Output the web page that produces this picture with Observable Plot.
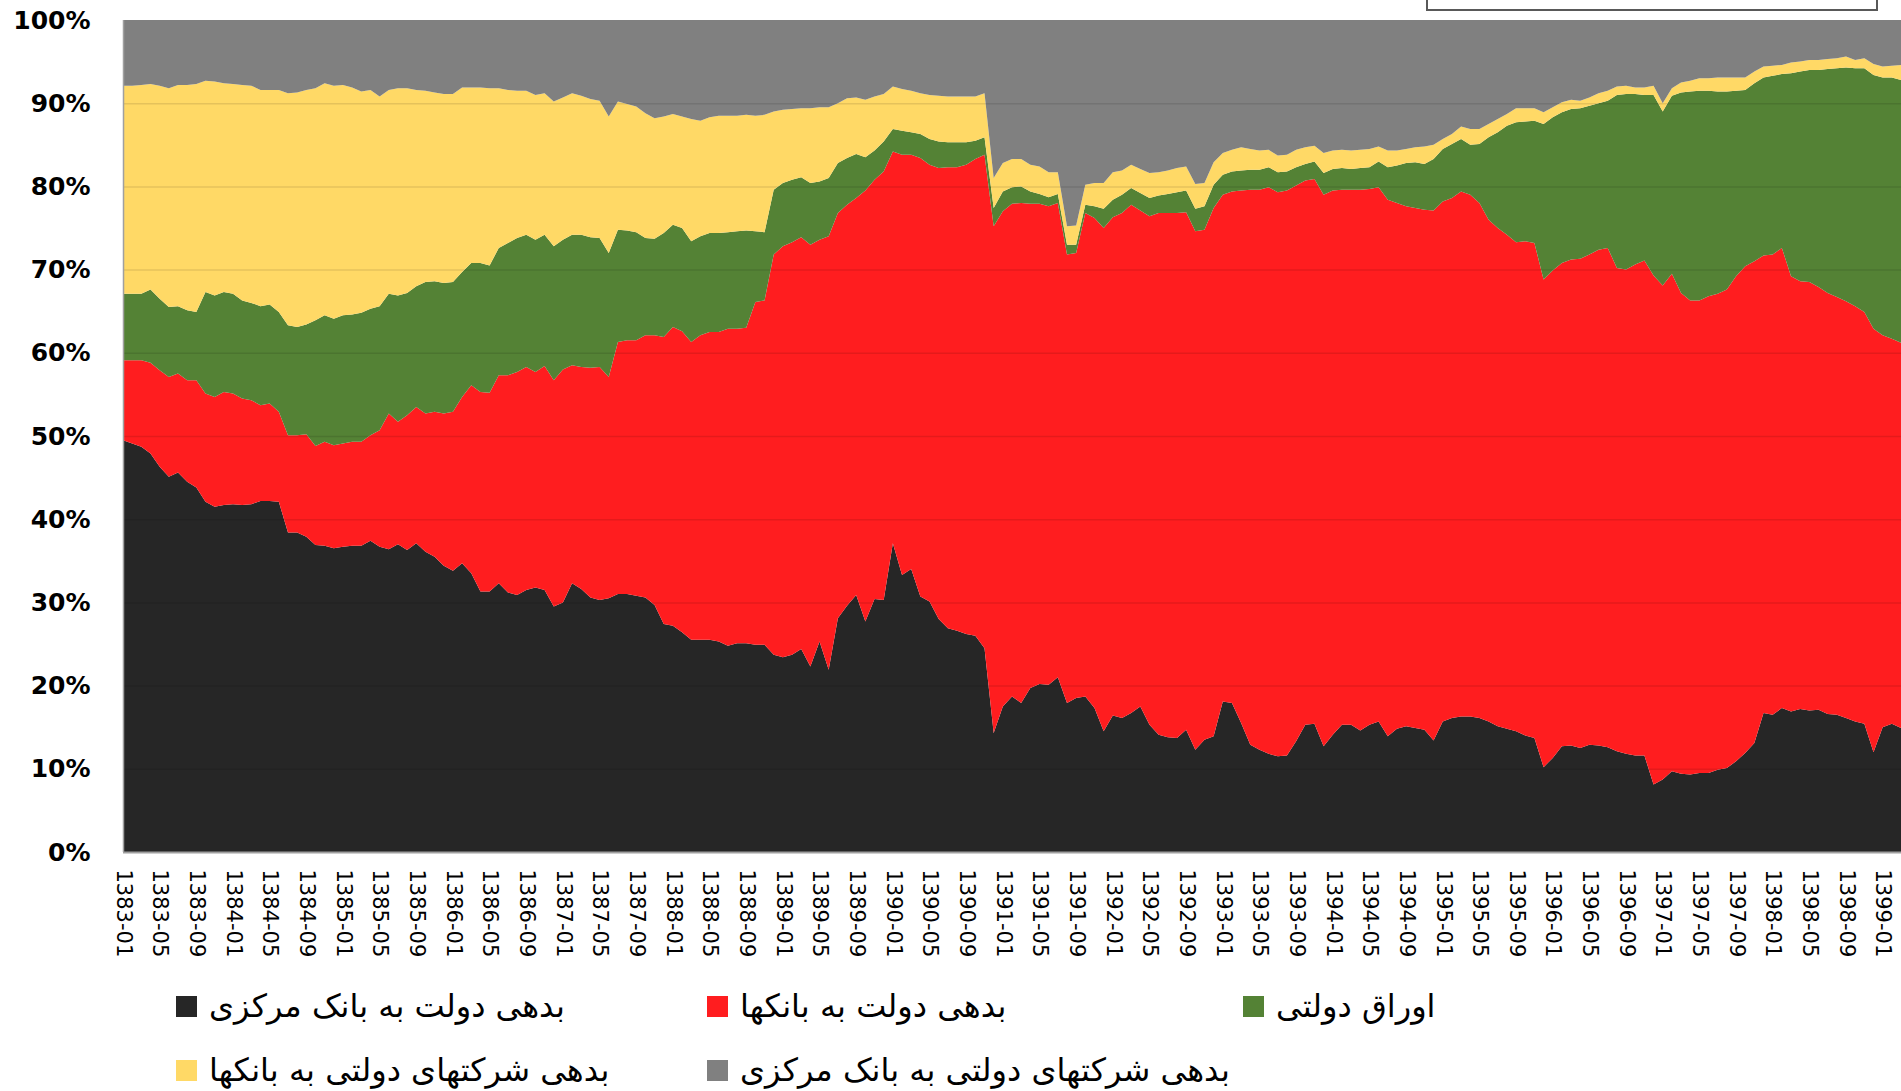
<!DOCTYPE html>
<html>
<head>
<meta charset="utf-8">
<script src="https://cdn.jsdelivr.net/npm/d3@7"></script>
<script src="https://cdn.jsdelivr.net/npm/@observablehq/plot@0.6"></script>
<style>
  html, body { margin: 0; padding: 0; background: #fff; }
  body { width: 1901px; height: 1091px; overflow: hidden; position: relative; font-family: "DejaVu Sans", sans-serif; }
  #chart { position: absolute; left: 0; top: 0; }
  #topbox { position: absolute; left: 1426px; top: -20px; width: 448px; height: 27px; border: 2px solid #595959; background: #fff; }
  .item { position: absolute; display: flex; align-items: center; height: 44px; }
  .sw { width: 21px; height: 21px; margin-right: 12px; flex: none; }
  .lab { direction: rtl; font-size: 32px; color: #000; white-space: nowrap; font-family: "DejaVu Sans", sans-serif; }
</style>
</head>
<body>
<div id="chart"></div>
<div id="topbox"></div>
<div id="legend"></div>
<script>
// Series names (legend order) and colours
const seriesNames = [
  "بدهی دولت به بانک مرکزی",
  "بدهی دولت به بانکها",
  "اوراق دولتی",
  "بدهی شرکتهای دولتی به بانکها",
  "بدهی شرکتهای دولتی به بانک مرکزی"
];
const seriesColors = ["#262626", "#ff1d1f", "#548235", "#ffd966", "#808080"];

// X tick labels (one every 4 months, starting 1383-01)
const tickLabels = [
  "1383-01","1383-05","1383-09","1384-01","1384-05","1384-09","1385-01","1385-05","1385-09",
  "1386-01","1386-05","1386-09","1387-01","1387-05","1387-09","1388-01","1388-05","1388-09",
  "1389-01","1389-05","1389-09","1390-01","1390-05","1390-09","1391-01","1391-05","1391-09",
  "1392-01","1392-05","1392-09","1393-01","1393-05","1393-09","1394-01","1394-05","1394-09",
  "1395-01","1395-05","1395-09","1396-01","1396-05","1396-09","1397-01","1397-05","1397-09",
  "1398-01","1398-05","1398-09","1399-01"
];
const yTicks = [0, 10, 20, 30, 40, 50, 60, 70, 80, 90, 100];

// Cumulative share (%) at the top of each band, monthly from 1383-01 to 1399-03
const topCentralBank = [
  49.5,49.1,48.7,47.9,46.3,45.1,45.6,44.5,43.8,42.1,
  41.5,41.7,41.8,41.7,41.8,42.2,42.2,42.1,38.4,38.4,
  37.9,36.9,36.8,36.5,36.7,36.8,36.8,37.4,36.7,36.4,
  37.0,36.3,37.1,36.1,35.5,34.4,33.8,34.7,33.5,31.3,
  31.3,32.3,31.2,30.9,31.5,31.8,31.5,29.5,30.0,32.3,
  31.6,30.6,30.3,30.5,31.0,31.0,30.8,30.6,29.7,27.4,
  27.2,26.4,25.5,25.5,25.5,25.3,24.8,25.1,25.1,24.9,
  24.9,23.7,23.4,23.7,24.4,22.3,25.3,21.9,28.1,29.6,
  30.9,27.7,30.4,30.3,37.1,33.3,34.0,30.7,30.1,28.0,
  26.9,26.6,26.2,26.0,24.5,14.3,17.5,18.7,17.9,19.7,
  20.2,20.1,21.0,17.9,18.5,18.7,17.3,14.5,16.4,16.1,
  16.7,17.5,15.3,14.1,13.8,13.7,14.7,12.3,13.5,13.9,
  18.1,17.9,15.5,12.9,12.3,11.8,11.5,11.6,13.3,15.3,
  15.4,12.7,14.1,15.3,15.3,14.6,15.3,15.7,13.9,14.8,
  15.1,14.9,14.7,13.4,15.7,16.1,16.3,16.3,16.1,15.7,
  15.1,14.8,14.5,14.0,13.7,10.2,11.3,12.7,12.8,12.5,
  12.9,12.8,12.6,12.1,11.8,11.6,11.6,8.1,8.7,9.7,
  9.4,9.3,9.5,9.5,9.9,10.1,10.9,11.9,13.1,16.7,
  16.5,17.3,16.9,17.2,17.0,17.1,16.6,16.5,16.1,15.7,
  15.4,12.0,15.0,15.4,14.9
];
const topBanks = [
  59.1,59.1,59.1,58.8,57.9,57.1,57.5,56.7,56.7,55.1,
  54.7,55.3,55.1,54.5,54.3,53.7,53.9,52.9,50.1,50.1,
  50.2,48.8,49.3,48.9,49.1,49.3,49.3,50.1,50.7,52.7,
  51.7,52.5,53.5,52.7,52.9,52.7,52.9,54.7,56.1,55.3,
  55.2,57.3,57.3,57.7,58.3,57.7,58.4,56.7,58.0,58.5,
  58.3,58.2,58.3,57.1,61.3,61.5,61.5,62.1,62.1,61.9,
  63.1,62.6,61.3,62.1,62.5,62.5,62.9,62.9,63.0,66.1,
  66.3,71.8,72.8,73.3,73.9,73.0,73.6,74.0,76.8,77.8,
  78.6,79.5,80.8,81.8,84.2,83.8,83.8,83.4,82.6,82.2,
  82.3,82.3,82.6,83.3,83.8,75.2,77.0,77.9,78.0,77.9,
  77.9,77.6,78.0,71.8,72.0,76.8,76.2,75.0,76.3,76.8,
  77.8,77.1,76.4,76.8,76.8,76.8,76.9,74.6,74.8,77.4,
  79.0,79.4,79.5,79.6,79.6,79.9,79.3,79.5,80.1,80.7,
  80.9,79.0,79.5,79.6,79.6,79.6,79.7,79.9,78.4,78.0,
  77.6,77.4,77.2,77.1,78.2,78.6,79.4,79.0,78.0,76.0,
  75.0,74.2,73.3,73.4,73.2,68.8,69.9,70.8,71.2,71.3,
  71.8,72.4,72.6,70.2,70.0,70.6,71.1,69.3,68.1,69.5,
  67.2,66.3,66.3,66.8,67.1,67.6,69.2,70.4,71.0,71.7,
  71.8,72.6,69.2,68.6,68.5,67.9,67.2,66.7,66.2,65.6,
  64.9,62.9,62.1,61.7,61.2
];
const topBonds = [
  67.1,67.1,67.1,67.6,66.5,65.5,65.6,65.1,64.9,67.3,
  66.9,67.3,67.1,66.3,66.0,65.6,65.8,64.9,63.3,63.1,
  63.4,63.9,64.5,64.1,64.5,64.6,64.8,65.3,65.6,67.1,
  66.9,67.2,68.0,68.5,68.6,68.4,68.5,69.7,70.8,70.8,
  70.5,72.6,73.2,73.8,74.2,73.6,74.2,72.8,73.6,74.2,
  74.2,73.9,73.8,72.0,74.8,74.7,74.5,73.8,73.7,74.4,
  75.4,75.0,73.4,74.0,74.4,74.4,74.5,74.6,74.7,74.6,
  74.5,79.6,80.4,80.8,81.1,80.4,80.6,81.0,82.8,83.4,
  83.9,83.5,84.3,85.4,86.9,86.7,86.5,86.3,85.7,85.4,
  85.3,85.3,85.3,85.5,85.9,77.4,79.4,79.9,80.0,79.4,
  79.1,78.7,79.1,73.0,73.0,77.8,77.6,77.3,78.4,79.0,
  79.8,79.2,78.6,78.9,79.1,79.3,79.5,77.3,77.6,80.2,
  81.4,81.8,81.9,82.0,82.0,82.3,81.7,81.8,82.3,82.7,
  83.0,81.6,82.1,82.2,82.1,82.2,82.3,83.0,82.3,82.5,
  82.8,82.9,82.7,83.3,84.5,85.1,85.7,85.0,85.1,85.9,
  86.5,87.3,87.7,87.8,87.9,87.5,88.3,88.9,89.3,89.4,
  89.7,90.0,90.3,91.0,91.1,91.1,91.0,91.0,89.0,90.9,
  91.3,91.4,91.5,91.5,91.4,91.4,91.5,91.6,92.4,93.1,
  93.3,93.5,93.6,93.8,94.0,94.0,94.1,94.2,94.3,94.2,
  94.2,93.4,93.1,93.1,92.8
];
const topCompaniesBanks = [
  92.1,92.1,92.2,92.3,92.1,91.8,92.2,92.2,92.3,92.7,
  92.6,92.4,92.3,92.2,92.1,91.6,91.6,91.6,91.2,91.3,
  91.6,91.8,92.4,92.1,92.2,91.9,91.4,91.6,90.8,91.6,
  91.8,91.8,91.6,91.5,91.3,91.1,91.1,91.9,91.9,91.9,
  91.8,91.8,91.6,91.5,91.5,91.0,91.2,90.2,90.7,91.2,
  90.9,90.5,90.3,88.4,90.2,89.9,89.6,88.8,88.2,88.4,
  88.7,88.4,88.1,87.9,88.3,88.5,88.5,88.5,88.6,88.5,
  88.6,89.0,89.2,89.3,89.4,89.4,89.5,89.5,90.0,90.6,
  90.7,90.4,90.8,91.1,92.0,91.7,91.5,91.2,91.0,90.9,
  90.8,90.8,90.8,90.8,91.2,81.0,82.8,83.3,83.3,82.6,
  82.4,81.7,81.7,75.2,75.3,80.2,80.4,80.4,81.7,81.9,
  82.6,82.1,81.6,81.7,81.9,82.2,82.4,80.3,80.4,82.9,
  84.0,84.4,84.7,84.5,84.3,84.4,83.7,83.8,84.4,84.7,
  84.9,84.0,84.3,84.4,84.3,84.4,84.5,84.8,84.3,84.3,
  84.5,84.7,84.8,85.0,85.7,86.3,87.2,86.9,86.9,87.5,
  88.1,88.7,89.4,89.4,89.4,88.9,89.5,90.1,90.4,90.3,
  90.7,91.2,91.5,92.0,92.1,91.9,91.9,92.1,90.0,91.8,
  92.5,92.7,93.0,93.0,93.1,93.1,93.1,93.1,93.8,94.4,
  94.5,94.6,94.9,95.0,95.2,95.2,95.3,95.4,95.6,95.2,
  95.4,94.7,94.4,94.5,94.6
];

// Build per-series shares from the cumulative levels
const levels = [topCentralBank, topBanks, topBonds, topCompaniesBanks];
const n = topCentralBank.length;
const rows = [];
for (let s = 0; s < seriesNames.length; s++) {
  for (let i = 0; i < n; i++) {
    const hi = s < levels.length ? levels[s][i] : 100;
    const lo = s === 0 ? 0 : levels[s - 1][i];
    rows.push({ month: i, series: seriesNames[s], share: Math.max(0, hi - lo) });
  }
}
const tickMonths = tickLabels.map((_, k) => k * 4);

const chart = Plot.plot({
  width: 1901,
  height: 965,
  marginLeft: 123,
  marginRight: 0,
  marginTop: 20,
  marginBottom: 113,
  style: { fontFamily: "DejaVu Sans, sans-serif", background: "transparent", color: "#000" },
  x: { type: "linear", domain: [0, n - 1], label: null },
  y: { domain: [0, 100], label: null },
  color: { domain: seriesNames, range: seriesColors },
  marks: [
    Plot.areaY(rows, { x: "month", y: "share", z: "series", fill: "series", order: seriesNames, curve: "linear" }),
    Plot.ruleY(yTicks.filter(d => d > 0 && d < 100), { stroke: "#000", strokeOpacity: 0.1, strokeWidth: 1.5 }),
    Plot.ruleY([0], { stroke: "#a0a0a0", strokeWidth: 2 }),
    Plot.ruleX([0], { stroke: "#a0a0a0", strokeWidth: 1.5 }),
    Plot.axisY({ ticks: yTicks, tickFormat: d => d + "%", tickSize: 0, tickPadding: 33, fontSize: 25, fontWeight: "bold", fill: "#000", label: null }),
    Plot.axisX({ ticks: tickMonths, tickFormat: d => tickLabels[tickMonths.indexOf(d)], tickSize: 0, tickPadding: 17,
                 tickRotate: 90, fontSize: 21, textAnchor: "start", lineAnchor: "middle", fill: "#000", label: null })
  ]
});
document.getElementById("chart").appendChild(chart);

// Legend
const legendPos = [
  { left: 176, top: 984 }, { left: 707, top: 984 }, { left: 1243, top: 984 },
  { left: 176, top: 1048 }, { left: 707, top: 1048 }
];
const legend = document.getElementById("legend");
seriesNames.forEach((name, k) => {
  const item = document.createElement("div");
  item.className = "item";
  item.style.left = legendPos[k].left + "px";
  item.style.top = legendPos[k].top + "px";
  const sw = document.createElement("div");
  sw.className = "sw";
  sw.style.background = seriesColors[k];
  const lab = document.createElement("span");
  lab.className = "lab";
  lab.textContent = name;
  item.appendChild(sw);
  item.appendChild(lab);
  legend.appendChild(item);
});
</script>
</body>
</html>
